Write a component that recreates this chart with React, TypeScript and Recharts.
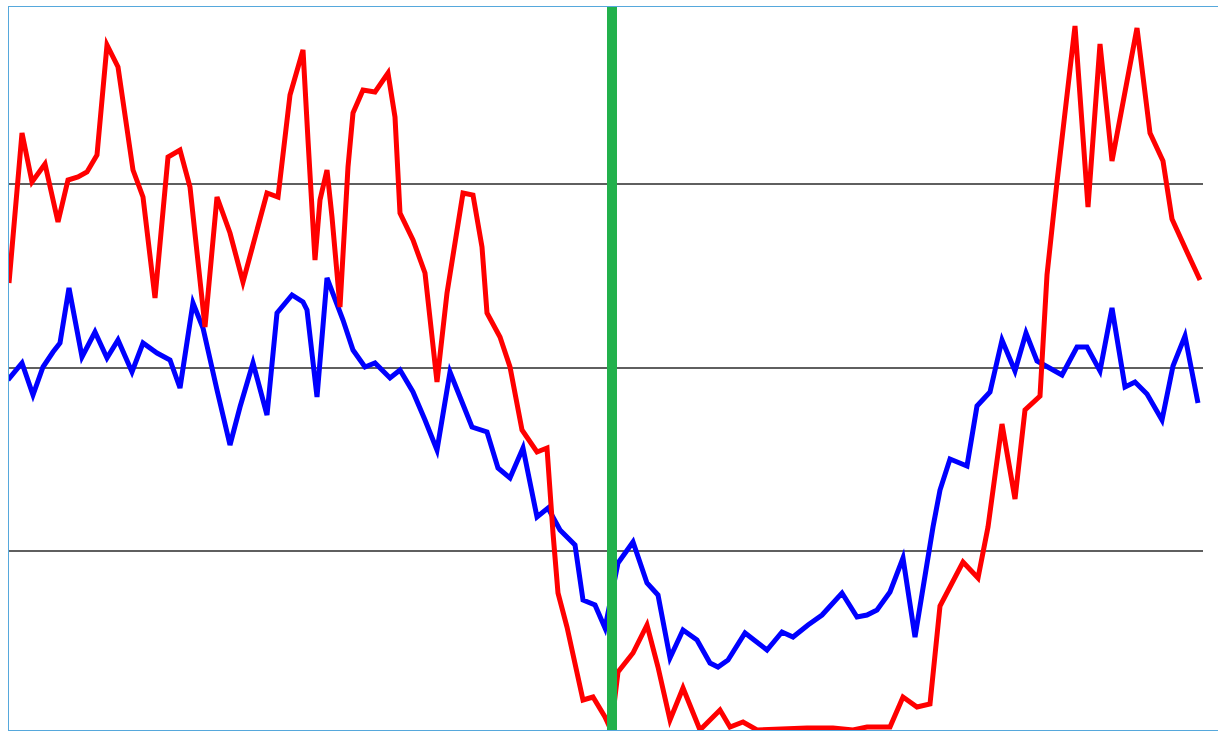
import { LineChart, Line, XAxis, YAxis, ReferenceLine } from 'recharts';

// time positions / values (value 0 = bottom of plot, 734 = top)
const redTime = [
  1, 14, 24, 37, 50, 60, 70, 79, 89, 99, 110, 125, 135, 147, 160, 172, 182, 197, 209, 222,
  235, 259, 270, 282, 295, 300, 307, 312, 319, 324, 332, 340, 345, 355, 367, 380, 387, 392, 405, 417,
  429, 439, 455, 465, 474, 479, 492, 502, 514, 529, 539, 545, 550, 559, 575, 585, 597, 603, 610, 625,
  639, 650, 662, 675, 692, 712, 722, 735, 749, 799, 825, 845, 859, 882, 895, 909, 922, 932, 955, 970,
  980, 994, 1007, 1017, 1032, 1039, 1049, 1067, 1080, 1092, 1104, 1129, 1142, 1155, 1164, 1179, 1192,
];
const redValues = [
  451, 601, 552, 570, 512, 554, 557, 562, 579, 689, 667, 564, 537, 436, 577, 584, 547, 407, 537, 501,
  452, 541, 537, 639, 684, 594, 474, 534, 564, 517, 427, 567, 621, 644, 642, 661, 617, 521, 494, 461,
  352, 441, 541, 539, 487, 421, 397, 367, 304, 282, 286, 201, 141, 107, 34, 37, 17, 4, 62, 81,
  109, 67, 14, 46, 4, 24, 7, 12, 4, 6, 6, 4, 7, 7, 37, 27, 30, 128, 172, 156,
  207, 310, 235, 324, 338, 459, 552, 708, 527, 690, 573, 706, 601, 573, 515, 482, 454,
];

const blueTime = [
  0, 14, 25, 35, 45, 52, 61, 74, 87, 99, 110, 124, 135, 149, 162, 172, 185, 195, 209, 222,
  232, 245, 259, 269, 284, 295, 299, 309, 319, 335, 345, 357, 367, 382, 392, 405, 417, 429, 442, 452,
  464, 479, 490, 502, 515, 529, 540, 552, 567, 575, 587, 597, 610, 625, 639, 650, 662, 675, 689, 702,
  710, 720, 737, 759, 774, 785, 800, 814, 834, 849, 859, 869, 882, 895, 907, 925, 932, 942, 959, 969,
  982, 994, 1007, 1018, 1029, 1054, 1069, 1079, 1092, 1104, 1117, 1127, 1139, 1154, 1165, 1177, 1190,
];
const blueValues = [
  354, 371, 339, 367, 382, 391, 446, 377, 402, 376, 394, 362, 391, 381, 374, 346, 431, 406, 344, 289,
  327, 371, 319, 421, 439, 432, 424, 337, 456, 414, 384, 367, 371, 356, 364, 342, 314, 284, 362, 337,
  307, 302, 266, 256, 286, 217, 226, 204, 189, 134, 129, 106, 171, 192, 151, 139, 76, 104, 94, 71,
  67, 74, 101, 84, 102, 97, 109, 119, 141, 117, 119, 124, 142, 176, 97, 207, 244, 275, 268, 328,
  342, 394, 363, 401, 373, 359, 387, 387, 363, 426, 347, 352, 340, 314, 368, 398, 331,
];

const markerTime = [604, 604];
const markerValues = [0, 734];

const gridValues = [183, 366, 550];

const redRows = redTime.map((t, i) => ({ t, v: redValues[i] }));
const blueRows = blueTime.map((t, i) => ({ t, v: blueValues[i] }));
const markerRows = markerTime.map((t, i) => ({ t, v: markerValues[i] }));

export default function App() {
  return (
    <div
      style={{
        position: 'absolute',
        left: 8,
        top: 6,
        width: 1209,
        height: 723,
        borderTop: '1px solid #56a8dc',
        borderLeft: '1px solid #56a8dc',
        borderBottom: '1px solid #56a8dc',
        overflow: 'hidden',
        background: '#fff',
      }}
    >
      <div style={{ position: 'absolute', left: -9, top: -7 }}>
        <LineChart width={1218} height={740} margin={{ top: 0, right: 15, bottom: 6, left: 8 }}>
          <XAxis type="number" dataKey="t" domain={[0, 1195]} hide />
          <YAxis type="number" domain={[0, 734]} hide />
          {gridValues.map((g) => (
            <ReferenceLine key={g} y={g} stroke="#2a2a2a" strokeWidth={1.5} />
          ))}
          <Line
            data={blueRows}
            dataKey="v"
            type="linear"
            stroke="#0000ff"
            strokeWidth={5}
            dot={false}
            isAnimationActive={false}
          />
          <Line
            data={redRows}
            dataKey="v"
            type="linear"
            stroke="#ff0000"
            strokeWidth={5}
            dot={false}
            isAnimationActive={false}
          />
          <Line
            data={markerRows}
            dataKey="v"
            type="linear"
            stroke="#22b14c"
            strokeWidth={10}
            dot={false}
            isAnimationActive={false}
          />
        </LineChart>
      </div>
    </div>
  );
}
